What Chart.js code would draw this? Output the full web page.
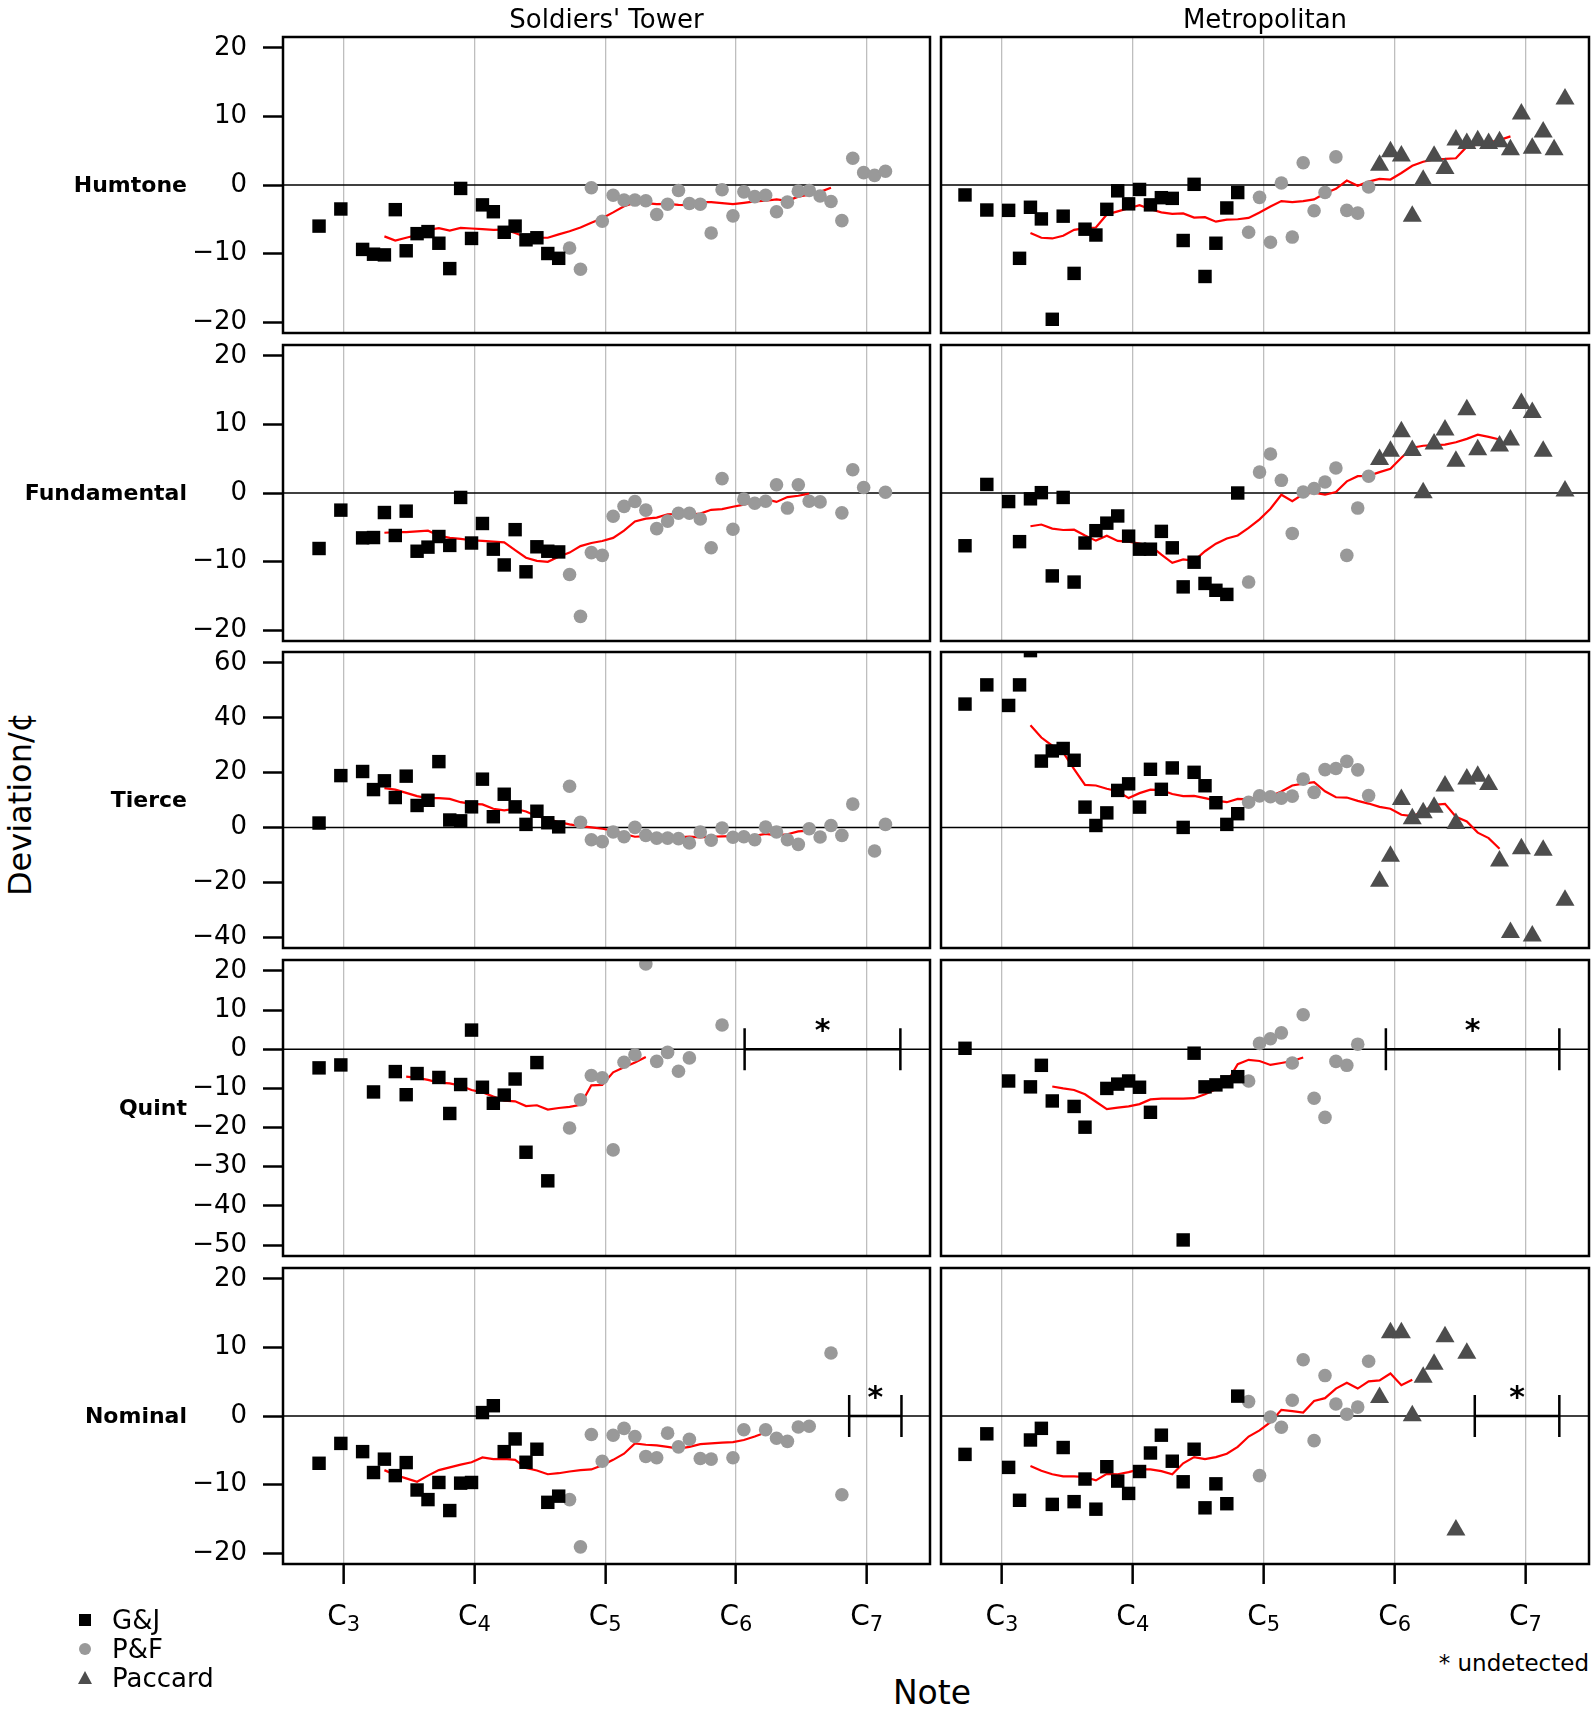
<!DOCTYPE html>
<html>
<head>
<meta charset="utf-8">
<title>Partial deviations - Soldiers' Tower and Metropolitan</title>
<script src="https://cdn.jsdelivr.net/npm/chart.js@4.4.0/dist/chart.umd.min.js"></script>
<style>
  body { margin: 0; background: #fff; font-family: "DejaVu Sans", sans-serif; }
  #page { position: relative; width: 1594px; height: 1716px; overflow: hidden; background: #fff; }
  canvas { position: absolute; }
  .lbl { position: absolute; white-space: nowrap; line-height: 1; color: #000; }
  .mk { position: absolute; }
</style>
</head>
<body>
<div id="page"></div>
<script>
// ---- data ----

// bell positions in semitones above C3 (neither carillon sits exactly on the C grid)
const stNotes = [-2.27, -0.27, 1.73, 2.73, 3.73, 4.73, 5.73, 6.73, 7.73, 8.73, 9.73,
  10.73, 11.73, 12.73, 13.73, 14.73, 15.73, 16.73, 17.73, 18.73, 19.73,
  20.73, 21.73, 22.73, 23.73, 24.73, 25.73, 26.73, 27.73, 28.73, 29.73,
  30.73, 31.73, 32.73, 33.73, 34.73, 35.73, 36.73, 37.73, 38.73, 39.73,
  40.73, 41.73, 42.73, 43.73, 44.73, 45.73, 46.73, 47.73, 48.73, 49.73];
const metNotes = [-3.38, -1.38, 0.62, 1.62, 2.62, 3.62, 4.62, 5.62, 6.62, 7.62, 8.62, 9.62,
  10.62, 11.62, 12.62, 13.62, 14.62, 15.62, 16.62, 17.62, 18.62, 19.62,
  20.62, 21.62, 22.62, 23.62, 24.62, 25.62, 26.62, 27.62, 28.62, 29.62,
  30.62, 31.62, 32.62, 33.62, 34.62, 35.62, 36.62, 37.62, 38.62, 39.62,
  40.62, 41.62, 42.62, 43.62, 44.62, 45.62, 46.62, 47.62, 48.62, 49.62, 50.62, 51.62];

// founders, and how many bells each cast (lowest bells first)
const founders = ['G&J', 'P&F', 'Paccard'];
const stFounderCounts = [21, 30, 0];
const metFounderCounts = [24, 12, 18];

const gap = n => Array(n).fill(null);

// deviation in cents, one entry per bell, null = no reading
const stHumtone = [-6.0, -3.5, -9.4, -10.1, -10.2, -3.6, -9.6, -7.1, -6.8, -8.5, -12.2,
  -0.5, -7.8, -2.9, -3.9, -6.9, -6.0, -8.0, -7.7, -10.0, -10.7,
  -9.2, -12.3, -0.4, -5.3, -1.5, -2.2, -2.2, -2.3, -4.3, -2.8,
  -0.8, -2.7, -2.8, -7.0, -0.7, -4.5, -1.0, -1.7, -1.5, -3.9,
  -2.5, -0.9, -0.8, -1.6, -2.4, -5.2, 3.9, 1.8, 1.4, 2.0];
const stFundamental = [-8.1, -2.5, -6.55, -6.5, -2.85, -6.2, -2.65, -8.5, -7.9, -6.35, -7.65,
  -0.65, -7.3, -4.45, -8.2, -10.5, -5.35, -11.5, -7.85, -8.5, -8.6,
  -11.9, -18.0, -8.7, -9.1, -3.4, -1.95, -1.25, -2.5, -5.2, -4.1,
  -2.95, -2.95, -3.8, -8.0, 2.1, -5.3, -0.9, -1.5, -1.2, 1.2,
  -2.2, 1.2, -1.2, -1.3, null, -2.9, 3.4, 0.8, null, 0.1];
const stTierce = [1.6, 18.9, 20.4, 13.8, 17.0, 10.9, 18.7, 8.0, 9.9, 24.0, 2.7,
  2.4, 7.5, 17.6, 3.9, 12.1, 7.5, 1.1, 5.9, 1.7, 0.2,
  15.0, 1.9, -4.5, -5.2, -1.7, -3.4, 0.0, -2.9, -3.9, -3.9,
  -4.1, -5.7, -1.7, -4.7, -0.2, -3.6, -3.4, -4.5, 0.1, -1.7,
  -4.5, -6.2, -0.5, -3.5, 0.7, -2.9, 8.5, null, -8.6, 1.1];
const stQuint = [-4.75, -4.0, null, -10.9, null, -5.7, -11.6, -6.2, null, -7.2, -16.4,
  -9.0, 4.9, -9.7, -13.8, -11.7, -7.6, -26.3, -3.4, -33.6, null,
  -20.1, -12.9, -6.7, -7.3, -25.7, -3.3, -1.4, 21.8, -3.1, -0.8,
  -5.6, -2.2, null, null, 6.2, null, null, null, null, null,
  ...gap(10)];
const stNominal = [-6.9, -4.0, -5.2, -8.25, -6.3, -8.7, -6.8, -10.8, -12.2, -9.7, -13.8,
  -9.8, -9.7, 0.5, 1.5, -5.2, -3.35, -6.75, -4.85, -12.6, -11.7,
  -12.2, -19.1, -2.7, -6.6, -2.8, -1.8, -3.0, -5.9, -6.1, -2.5,
  -4.5, -3.4, -6.2, -6.3, null, -6.1, -2.0, null, -2.0, -3.25,
  -3.7, -1.6, -1.5, null, 9.2, -11.5, null, null, null, null];

const metHumtone = [-1.45, -3.65, -3.7, -10.7, -3.25, -4.95, -19.6, -4.55, -12.9, -6.45, -7.3, -3.55,
  -0.85, -2.75, -0.65, -2.9, -1.85, -1.95, -8.1, 0.1, -13.35, -8.5, -3.35, -1.1,
  -6.9, -1.8, -8.35, 0.3, -7.6, 3.25, -3.75, -1.1, 4.1, -3.7, -4.1, -0.3,
  2.9, 4.85, 4.25, -4.55, 0.7, 4.2, 2.4, 6.55, 6.05, 6.45, 6.05, 6.3, 5.15, 10.35, 5.35, 7.75, 5.15, 12.55];
const metFundamental = [-7.7, 1.25, -1.25, -7.1, -0.85, 0.05, -12.1, -0.65, -13.0, -7.3, -5.5, -4.4,
  -3.35, -6.3, -8.2, -8.2, -5.6, -8.0, -13.7, -10.1, -13.2, -14.2, -14.8, 0.0,
  -13.0, 3.05, 5.7, 1.85, -5.9, 0.15, 0.65, 1.6, 3.65, -9.1, -2.2, 2.45,
  4.9, 6.1, 8.95, 6.2, 0.05, 7.15, 9.2, 4.65, 12.15, 6.3, null, 6.85, 7.75, 13.05, 11.75, 6.1, null, 0.3];
const metTierce = [45.0, 52.0, 44.5, 52.0, 64.5, 24.2, 27.9, 28.8, 24.5, 7.4, 0.7, 5.3,
  13.5, 15.9, 7.4, 21.2, 13.9, 21.7, 0.0, 20.1, 15.2, 9.0, 1.1, 5.0,
  9.2, 11.5, 11.2, 10.7, 11.4, 17.6, 12.8, 21.1, 21.5, 24.1, 21.0, 11.6,
  -19.65, -10.55, 10.15, 3.15, 5.35, 7.35, 15.15, 1.45, 17.65, 18.65, 15.65, -12.25, -38.35, -7.75, -39.65, -8.35, null, -26.55];
const metQuint = [0.25, null, -8.1, null, -9.6, -4.1, -13.2, null, -14.6, -19.9, null, -10.0,
  -8.9, -8.1, -9.7, -16.1, null, null, -48.7, -1.0, -9.6, -9.1, -8.3, -7.0,
  -8.1, 1.5, 2.7, 4.2, -3.5, 8.8, -12.5, -17.4, -3.1, -4.1, 1.3, null,
  ...gap(18)];
const metNominal = [-5.6, -2.6, -7.5, -12.3, -3.5, -1.8, -12.9, -4.6, -12.5, -9.2, -13.6, -7.4,
  -9.5, -11.3, -8.1, -5.4, -2.8, -6.6, -9.6, -4.85, -13.4, -9.9, -12.8, 2.9,
  2.1, -8.7, -0.15, -1.65, 2.3, 8.2, -3.6, 5.9, 1.75, 0.25, 1.3, 8.0,
  2.7, 12.15, 12.15, 0.05, 5.65, 7.55, 11.55, -16.65, 9.15, ...gap(9)];

// running means (red lines), same bell indexing
const stHumtoneMean = [...gap(4), -7.5, -8.1, -7.7, -7.3, -6.55, -6.3, -6.65,
  -6.25, -6.35, -6.45, -6.55, -6.5, -7.0, -7.6, -7.7, -7.7, -7.2,
  -6.75, -6.2, -5.5, -4.85, -4.0, -3.1, -2.6, -2.65, -2.8, -2.75,
  -2.9, -2.95, -2.5, -2.5, -2.65, -2.8, -2.6, -2.4, -2.3, -2.1,
  -2.3, -1.7, -1.4, -1.0, -0.4, ...gap(5)];
const stFundamentalMean = [...gap(4), -5.8, -5.7, -5.7, -5.6, -5.5, -6.2, -6.55,
  -6.7, -6.9, -7.0, -7.1, -7.2, -8.35, -9.45, -9.9, -10.05, -9.3,
  -8.7, -7.75, -7.3, -7.0, -6.55, -5.5, -4.15, -3.75, -3.6, -3.1,
  -3.05, -3.15, -3.0, -2.45, -2.35, -2.0, -1.7, -1.2, -0.9, -1.3,
  -0.6, -0.4, -0.1, ...gap(7)];
const stTierceMean = [...gap(4), 14.3, 13.8, 12.6, 11.4, 10.7, 10.7, 10.4,
  9.2, 8.6, 8.4, 6.8, 6.2, 6.8, 5.8, 4.1, 3.2, 1.9,
  1.1, 0.5, 0.0, -0.5, -1.2, -2.4, -3.4, -3.2, -3.75, -3.75,
  -3.6, -3.4, -3.6, -3.4, -3.3, -3.2, -3.15, -3.05, -2.4, -2.9,
  -2.5, -1.45, -1.2, ...gap(7)];
const stQuintMean = [...gap(6), -7.0, -7.3, -7.8, -8.5, -8.7,
  -9.3, -10.4, -11.0, -12.1, -13.1, -13.3, -14.5, -14.3, -15.4, -15.0,
  -14.7, -14.2, -9.2, -9.1, -5.9, -4.6, -3.4, -2.0, ...gap(22)];
const stNominalMean = [...gap(4), -7.9, -8.6, -9.1, -9.6, -8.7, -7.9, -7.5,
  -7.1, -6.75, -6.05, -6.3, -6.25, -6.4, -7.6, -7.95, -8.5, -8.35,
  -8.1, -7.9, -7.8, -7.2, -6.4, -5.5, -4.0, -4.2, -4.3, -4.5,
  -4.75, -4.5, -4.1, -4.0, -3.9, -3.8, -3.5, -3.0, -2.4, ...gap(11)];

const metHumtoneMean = [...gap(4), -7.0, -7.7, -7.8, -7.4, -6.55, -6.3, -6.2, -4.3,
  -3.85, -3.4, -2.95, -3.55, -4.0, -4.2, -4.15, -4.75, -4.7, -5.35, -5.05, -5.0,
  -4.8, -4.0, -3.15, -2.35, -2.5, -2.35, -2.1, -1.2, -0.55, 0.65, -0.1, 0.5,
  0.9, 0.8, 1.75, 2.8, 3.4, 3.75, 3.8, 3.9, 5.6, 5.9, 6.2, 6.55, 7.1, ...gap(5)];
const metFundamentalMean = [...gap(4), -4.85, -4.6, -5.2, -5.4, -5.35, -6.2, -6.95, -6.25,
  -7.0, -7.1, -7.4, -7.7, -9.0, -10.2, -9.7, -9.9, -8.5, -7.4, -6.65, -6.2,
  -5.1, -3.85, -2.3, -0.25, -1.2, -0.15, 0.05, -0.25, 0.15, 1.7, 2.45, 2.5,
  3.05, 3.55, 5.15, 6.6, 6.9, 7.0, 7.05, 7.4, 7.9, 8.5, 8.2, 7.8, ...gap(6)];
const metTierceMean = [...gap(4), 37.3, 32.8, 29.8, 27.4, 21.3, 15.5, 15.3, 14.1,
  13.2, 10.7, 12.5, 13.8, 13.6, 12.2, 11.4, 11.5, 10.7, 9.8, 9.2, 10.4,
  10.2, 11.6, 11.4, 13.1, 15.3, 16.0, 16.5, 13.2, 11.0, 10.9, 9.7, 8.7,
  7.5, 6.8, 4.6, 4.1, 5.8, 8.2, 8.6, 3.9, 2.2, -1.9, -3.9, -7.8, ...gap(6)];
const metQuintMean = [...gap(6), -9.5, -10.0, -10.4, -11.5, -13.4, -15.3,
  -14.9, -14.6, -14.0, -12.8, -12.6, -12.6, -12.6, -12.5, -11.5, -10.2, -8.5, -3.8,
  -2.7, -3.0, -4.0, -3.5, -3.0, -2.1, ...gap(24)];
const metNominalMean = [...gap(4), -7.3, -8.0, -8.5, -8.8, -8.8, -8.9, -9.4, -8.45,
  -8.5, -8.2, -7.8, -7.8, -8.05, -8.5, -6.9, -6.0, -6.3, -6.0, -5.5, -4.5,
  -3.0, -2.1, -0.9, 0.9, 0.7, 0.5, 2.2, 2.6, 4.0, 4.85, 4.0, 5.05,
  5.2, 6.2, 4.5, 5.3, ...gap(14)];

// note ranges where the partial went undetected
const stQuintUndetected = [36.8, 51.1];
const stNominalUndetected = [46.4, 51.2];
const metQuintUndetected = [35.2, 51.1];
const metNominalUndetected = [43.35, 51.1];

const rowNames = ['Humtone', 'Fundamental', 'Tierce', 'Quint', 'Nominal'];
const colNames = ["Soldiers' Tower", 'Metropolitan'];
const rowTicks = [[-20, -10, 0, 10, 20], [-20, -10, 0, 10, 20], [-40, -20, 0, 20, 40, 60],
  [-50, -40, -30, -20, -10, 0, 10, 20], [-20, -10, 0, 10, 20]];
const rowLimits = [[-21.6, 21.6], [-21.6, 21.6], [-44, 64], [-52.8, 22.8], [-21.6, 21.6]];
const noteTicks = [0, 12, 24, 36, 48];
const noteOctaves = ['3', '4', '5', '6', '7'];
const noteLimits = [-5.58, 53.82];

// ---- layout (page pixels) ----
const rowTop = [37, 345, 652, 960, 1268];
const plotH = 296;
const colLeft = [283, 941];
const plotW = [647, 648];
const AXIS_W = 140, PAD = 6, XAXIS_H = 80;

const markStyle = ['rect', 'circle', 'triangle'];
const markRadius = [9.5, 6.8, 11];
const markColor = ['#000000', '#999999', '#4d4d4d'];

const page = document.getElementById('page');
Chart.defaults.font.family = '"DejaVu Sans", sans-serif';

//zero line, box, "undetected" bracket and the C tick labels
const framePlugin = {
  id: 'frame',
  beforeDatasetsDraw(chart) {
    const {ctx, chartArea: a, scales: {y}} = chart;
    const y0 = y.getPixelForValue(0);
    ctx.save();
    ctx.strokeStyle = '#000';
    ctx.lineWidth = 1.5;
    ctx.beginPath();
    ctx.moveTo(a.left, y0);
    ctx.lineTo(a.right, y0);
    ctx.stroke();
    ctx.restore();
  },
  afterDatasetsDraw(chart, args, opts) {
    const {ctx, chartArea: a, scales: {x, y}} = chart;
    ctx.save();
    const u = opts.undetected;
    if (u) {
      const x0 = x.getPixelForValue(u[0]), x1 = x.getPixelForValue(u[1]);
      const y0 = y.getPixelForValue(0);
      ctx.strokeStyle = '#000';
      ctx.lineWidth = 2.5;
      ctx.beginPath();
      ctx.moveTo(x0, y0); ctx.lineTo(x1, y0);
      ctx.moveTo(x0, y0 - 21); ctx.lineTo(x0, y0 + 21);
      ctx.moveTo(x1, y0 - 21); ctx.lineTo(x1, y0 + 21);
      ctx.stroke();
      ctx.fillStyle = '#000';
      ctx.font = 'bold 30px "DejaVu Sans"';
      ctx.textAlign = 'center';
      ctx.textBaseline = 'alphabetic';
      ctx.fillText('*', (x0 + x1) / 2, y0 - 9);
    }
    ctx.strokeStyle = '#000';
    ctx.lineWidth = 2.5;
    ctx.strokeRect(a.left, a.top, a.right - a.left, a.bottom - a.top);
    ctx.restore();
  },
  afterDraw(chart, args, opts) {
    if (!opts.bottom) return;
    const {ctx, chartArea: a, scales: {x}} = chart;
    ctx.save();
    ctx.fillStyle = '#000';
    ctx.textAlign = 'left';
    ctx.textBaseline = 'alphabetic';
    noteTicks.forEach((v, i) => {
      const px = x.getPixelForValue(v);
      ctx.font = '28px "DejaVu Sans"';
      const wc = ctx.measureText('C').width;
      ctx.font = '21px "DejaVu Sans"';
      const ws = ctx.measureText(noteOctaves[i]).width;
      const left = px - (wc + ws) / 2;
      ctx.font = '28px "DejaVu Sans"';
      ctx.fillText('C', left, a.bottom + 61);
      ctx.font = '21px "DejaVu Sans"';
      ctx.fillText(noteOctaves[i], left + wc, a.bottom + 67);
    });
    ctx.restore();
  }
};

function buildDatasets(notes, values, means, counts) {
  const sets = [];
  let start = 0;
  founders.forEach((name, k) => {
    const pts = [];
    for (let i = start; i < start + counts[k]; i++) {
      if (values[i] !== null) pts.push({x: notes[i], y: values[i]});
    }
    start += counts[k];
    if (!counts[k]) return;
    sets.push({
      label: name, data: pts, order: 1, clip: 0,
      pointStyle: markStyle[k], pointRadius: markRadius[k],
      backgroundColor: markColor[k], pointBackgroundColor: markColor[k],
      borderWidth: 0, pointBorderWidth: 0
    });
  });
  const line = [];
  notes.forEach((n, i) => { if (means[i] !== null) line.push({x: n, y: means[i]}); });
  sets.push({
    label: 'running mean', data: line, showLine: true, order: 2, clip: 0,
    borderColor: '#ff0000', borderWidth: 2.2, pointRadius: 0, tension: 0
  });
  return sets;
}

function makePanel(row, col, values, means, undetected) {
  const bottom = row === 4;
  const left = col === 0;
  const canvas = document.createElement('canvas');
  const cw = (left ? AXIS_W : PAD) + plotW[col] + PAD;
  const ch = PAD + plotH + (bottom ? XAXIS_H : PAD);
  canvas.width = cw;
  canvas.height = ch;
  canvas.style.left = (left ? colLeft[0] - AXIS_W : colLeft[1] - PAD) + 'px';
  canvas.style.top = (rowTop[row] - PAD) + 'px';
  canvas.style.width = cw + 'px';
  canvas.style.height = ch + 'px';
  page.appendChild(canvas);

  const notes = left ? stNotes : metNotes;
  const counts = left ? stFounderCounts : metFounderCounts;

  new Chart(canvas, {
    type: 'scatter',
    data: {datasets: buildDatasets(notes, values, means, counts)},
    options: {
      responsive: false,
      animation: false,
      devicePixelRatio: 1,
      events: [],
      layout: {
        autoPadding: false,
        padding: {left: left ? 0 : PAD, right: PAD, top: PAD, bottom: bottom ? 0 : PAD}
      },
      plugins: {
        legend: {display: false},
        tooltip: {enabled: false},
        frame: {undetected: undetected, bottom: bottom}
      },
      scales: {
        x: {
          type: 'linear', position: 'bottom',
          min: noteLimits[0], max: noteLimits[1],
          afterBuildTicks: s => { s.ticks = noteTicks.map(v => ({value: v})); },
          afterFit: s => {
            s.height = bottom ? XAXIS_H : 0;
            s.paddingLeft = 0; s.paddingRight = 0;
          },
          ticks: {display: false},
          border: {display: false},
          grid: {color: '#bebebe', lineWidth: 1.3, drawTicks: bottom, tickLength: 20,
                 tickColor: '#000', tickWidth: 2.5}
        },
        y: {
          type: 'linear', position: 'left', display: left,
          min: rowLimits[row][0], max: rowLimits[row][1],
          afterBuildTicks: s => { s.ticks = rowTicks[row].map(v => ({value: v})); },
          afterFit: s => {
            s.width = left ? AXIS_W : 0;
            s.paddingTop = 0; s.paddingBottom = 0;
          },
          ticks: {
            color: '#000', padding: 16, autoSkip: false,
            font: {family: '"DejaVu Sans"', size: 26},
            callback: v => (v < 0 ? '\u2212' + (-v) : String(v))
          },
          border: {display: false},
          grid: {drawOnChartArea: false, drawTicks: true, tickLength: 20,
                 tickColor: '#000', tickWidth: 2.5}
        }
      }
    },
    plugins: [framePlugin]
  });
}

const stRows = [stHumtone, stFundamental, stTierce, stQuint, stNominal];
const stMeanRows = [stHumtoneMean, stFundamentalMean, stTierceMean, stQuintMean, stNominalMean];
const stGaps = [null, null, null, stQuintUndetected, stNominalUndetected];
const metRows = [metHumtone, metFundamental, metTierce, metQuint, metNominal];
const metMeanRows = [metHumtoneMean, metFundamentalMean, metTierceMean, metQuintMean, metNominalMean];
const metGaps = [null, null, null, metQuintUndetected, metNominalUndetected];

for (let r = 0; r < 5; r++) {
  makePanel(r, 0, stRows[r], stMeanRows[r], stGaps[r]);
  makePanel(r, 1, metRows[r], metMeanRows[r], metGaps[r]);
}

// ---- text around the panels ----
function label(text, x, y, css, anchor) {
  const d = document.createElement('div');
  d.className = 'lbl';
  d.textContent = text;
  d.style.left = x + 'px';
  d.style.top = y + 'px';
  d.style.cssText += css;
  d.style.transform = anchor || 'translate(-50%, -50%)';
  page.appendChild(d);
  return d;
}

label(colNames[0], colLeft[0] + plotW[0] / 2, 19, 'font-size:26px;');
label(colNames[1], colLeft[1] + plotW[1] / 2, 19, 'font-size:26px;');

rowNames.forEach((name, r) => {
  label(name, 187, rowTop[r] + plotH / 2, 'font-size:22px;font-weight:bold;', 'translate(-100%, -50%)');
});

label('Deviation/\u00a2', 20, 804, 'font-size:32px;', 'translate(-50%, -50%) rotate(-90deg)');
label('Note', 932, 1692, 'font-size:33px;');
label('* undetected', 1589, 1663, 'font-size:23px;', 'translate(-100%, -50%)');

// legend, bottom left
const legendY = [1620, 1649, 1678];
founders.forEach((name, k) => {
  const m = document.createElement('div');
  m.className = 'mk';
  if (k === 0) {
    m.style.cssText += 'left:79px;top:' + (legendY[k] - 6) + 'px;width:12px;height:12px;background:' + markColor[k] + ';';
  } else if (k === 1) {
    m.style.cssText += 'left:79px;top:' + (legendY[k] - 6) + 'px;width:12px;height:12px;border-radius:50%;background:' + markColor[k] + ';';
  } else {
    m.style.cssText += 'left:78px;top:' + (legendY[k] - 7) + 'px;width:0;height:0;' +
      'border-left:7px solid transparent;border-right:7px solid transparent;border-bottom:13px solid ' + markColor[k] + ';';
  }
  page.appendChild(m);
  label(name, 112, legendY[k], 'font-size:26px;', 'translate(0, -50%)');
});
</script>
</body>
</html>
